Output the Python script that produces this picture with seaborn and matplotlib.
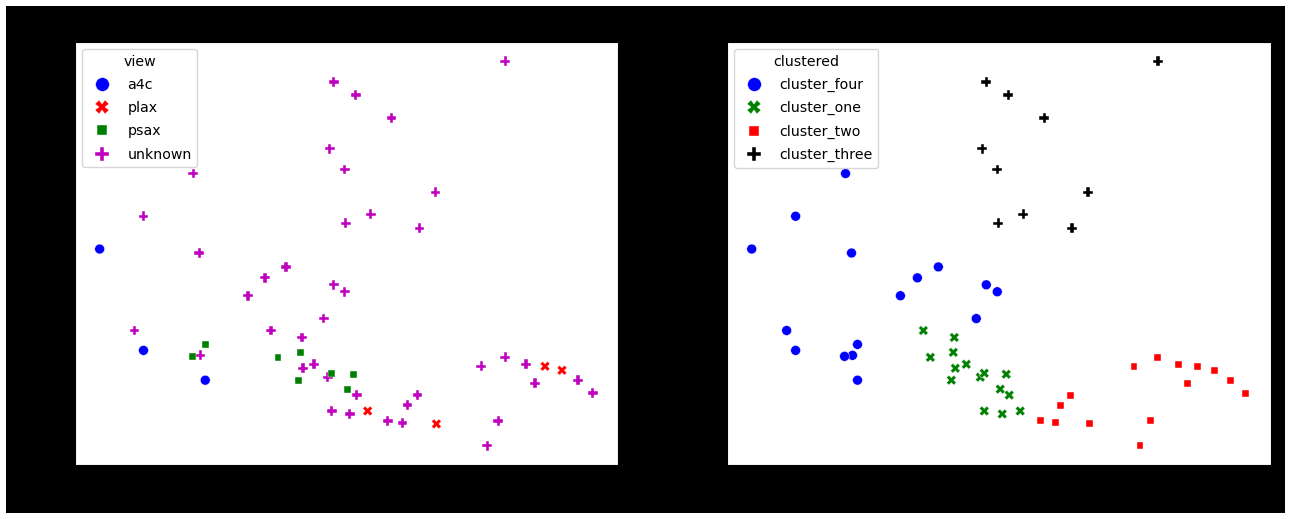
import matplotlib
matplotlib.use("Agg")
import matplotlib.pyplot as plt
from matplotlib.patches import Rectangle
import pandas as pd
import seaborn as sns

# embedding coordinates (2-d projection) with their labels
x = [-1.2, 1.0, -1.6, -0.1, 0.0, 16.0, 4.6, 9.0, 2.5, 7.4,
     -24.7, -20.3, -14.1, -15.3, -20.3, -14.7, -6.0, -8.1, -9.8, -1.2,
     -0.1, -2.2, -21.2, -14.6, -14.1, -15.4,
     -7.5, -4.4, -4.3, -3.2, -1.8, 1.1, -1.4, 0.4, -6.8, -4.5,
     -4.7, -1.4, 0.8, 0.2, 2.2,
     13.6, 16.0, 18.1, 23.3, 19.0, 24.8, 6.2, 7.2, 4.2, 5.7,
     15.3, 14.2, 20.0, 21.7, 9.1]
y = [17.4, 16.1, 10.7, 8.6, 3.2, 19.5, 13.8, 6.3, 4.1, 2.7,
     0.6, -9.6, -12.6, 8.2, 3.9, 0.2, -1.2, -2.3, -4.1, -3.0,
     -3.7, -6.4, -7.6, -10.1, -9.0, -10.2,
     -7.6, -8.3, -11.4, -11.0, -12.3, -14.1, -15.7, -16.0, -10.3, -9.8,
     -12.6, -11.9, -12.0, -13.5, -15.7,
     -11.2, -10.3, -11.0, -12.6, -12.9, -13.9, -15.1, -14.1, -16.7, -16.9,
     -16.7, -19.2, -11.2, -11.6, -17.0]
view = (["unknown"] * 10
        + ["a4c"] * 3 + ["unknown"] * 11 + ["psax"] * 2
        + ["unknown"] * 8 + ["psax"] * 6 + ["plax"]
        + ["unknown"] * 12 + ["plax"] * 3)
clustered = (["cluster_three"] * 10 + ["cluster_four"] * 16
             + ["cluster_one"] * 15 + ["cluster_two"] * 15)

view_order = ["a4c", "plax", "psax", "unknown"]
cluster_order = ["cluster_four", "cluster_one", "cluster_two", "cluster_three"]
view_colors = {"a4c": "b", "plax": "r", "psax": "g", "unknown": "m"}
cluster_colors = {"cluster_four": "b", "cluster_one": "g",
                  "cluster_two": "r", "cluster_three": "k"}

df = pd.DataFrame({"x": x, "y": y, "view": view, "clustered": clustered})

fig = plt.figure(figsize=(12.91, 5.19), dpi=100, facecolor="white")
fig.patches.append(Rectangle((6 / 1291, 6 / 519), 1279 / 1291, 507 / 519,
                             transform=fig.transFigure, facecolor="black",
                             edgecolor="none", zorder=-10))

ax1 = fig.add_axes([75 / 1291, 54 / 519, 542.5 / 1291, 423 / 519])
ax2 = fig.add_axes([727 / 1291, 54 / 519, 543.5 / 1291, 423 / 519])

sns.scatterplot(data=df, x="x", y="y", hue="view", style="view",
                hue_order=view_order, style_order=view_order,
                palette=view_colors, s=50, linewidth=0.3, ax=ax1)
sns.scatterplot(data=df, x="x", y="y", hue="clustered", style="clustered",
                hue_order=cluster_order, style_order=cluster_order,
                palette=cluster_colors, s=50, linewidth=0.3, ax=ax2)

for ax in (ax1, ax2):
    ax.set_facecolor("white")
    ax.set_xticks([])
    ax.set_yticks([])
    ax.set_xlabel("")
    ax.set_ylabel("")
    ax.legend(loc="upper left", title=ax.get_legend().get_title().get_text(),
              markerscale=1.4, fontsize=10.2, title_fontsize=10.2,
              labelspacing=0.65)

fig.savefig("out.png", dpi=100, facecolor=fig.get_facecolor())
